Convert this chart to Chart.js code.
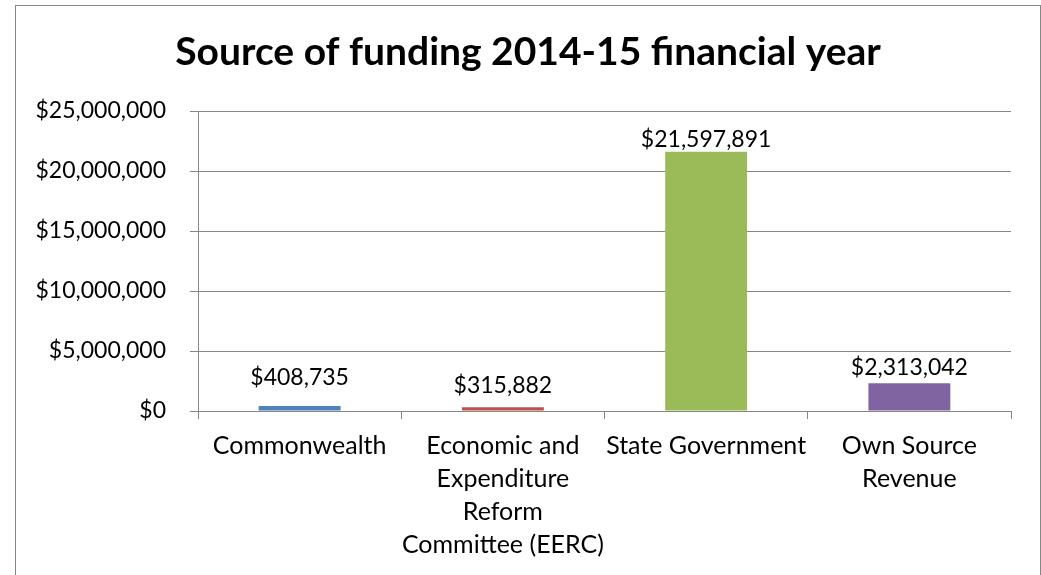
<!DOCTYPE html>
<html>
<head>
<meta charset="utf-8">
<script src="https://cdn.jsdelivr.net/npm/chart.js@4.4.0/dist/chart.umd.min.js"></script>
<style>
html,body{margin:0;padding:0;background:#fff;}
#wrap{width:1041px;height:575px;position:relative;}
</style>
</head>
<body>
<div id="wrap"><canvas id="c" width="1041" height="575"></canvas></div>
<script>
const titleText = "Source of funding 2014-15 financial year";
const categories = [
  ["Commonwealth"],
  ["Economic and", "Expenditure", "Reform", "Committee (EERC)"],
  ["State Government"],
  ["Own Source", "Revenue"]
];
const values = [408735, 315882, 21597891, 2313042];
const barColors = ["#4F81BD", "#C0504D", "#9BBB59", "#8064A2"];
const yTicks = [0, 5000000, 10000000, 15000000, 20000000, 25000000];
const labelGaps = [21, 14, 5, 8];

const FONT = "Lato, 'Open Sans', 'Liberation Sans', sans-serif";
const GRID = "#868686";

function money(v){ return "$" + Math.round(v).toLocaleString("en-US"); }

const frame = {
  id: "frame",
  beforeDraw(chart){
    const ctx = chart.ctx;
    ctx.save();
    ctx.fillStyle = "#fff";
    ctx.fillRect(0,0,chart.width,chart.height);
    ctx.strokeStyle = GRID;
    ctx.lineWidth = 1;
    ctx.strokeRect(15.5, 5.5, 1025, 620);
    ctx.font = "bold 39px " + FONT;
    ctx.fillStyle = "#000";
    ctx.textAlign = "center";
    ctx.textBaseline = "alphabetic";
    ctx.fillText(titleText, 528, 65);
    ctx.restore();
  }
};

const dataLabels = {
  id: "dataLabels",
  afterDatasetsDraw(chart){
    const ctx = chart.ctx;
    const meta = chart.getDatasetMeta(0);
    ctx.save();
    ctx.font = "23px " + FONT;
    ctx.fillStyle = "#000";
    ctx.textAlign = "center";
    ctx.textBaseline = "alphabetic";
    meta.data.forEach((bar, i) => {
      ctx.fillText(money(values[i]), bar.x, bar.y - labelGaps[i]);
    });
    ctx.restore();
  }
};

new Chart(document.getElementById("c"), {
  type: "bar",
  data: {
    labels: categories,
    datasets: [{
      data: values,
      backgroundColor: barColors,
      borderWidth: 0,
      barPercentage: 0.403,
      categoryPercentage: 1
    }]
  },
  options: {
    responsive: false,
    animation: false,
    devicePixelRatio: 1,
    layout: { padding: { top: 111, left: 0, right: 30, bottom: 0 } },
    plugins: {
      legend: { display: false },
      tooltip: { enabled: false },
      title: { display: false }
    },
    scales: {
      x: {
        afterFit(s){ s.height = 164; },
        grid: { drawOnChartArea: false, drawTicks: true, tickLength: 8, color: GRID, offset: true },
        border: { display: true, color: GRID, width: 1 },
        ticks: {
          color: "#000",
          padding: 10,
          maxRotation: 0,
          autoSkip: false,
          font: { family: FONT, size: 25, lineHeight: 1.32 }
        }
      },
      y: {
        min: 0,
        max: 25000000,
        afterFit(s){ s.width = 198; },
        afterBuildTicks(s){ s.ticks = yTicks.map(v => ({ value: v })); },
        grid: { color: GRID, lineWidth: 1, tickLength: 8, drawTicks: true },
        border: { display: true, color: GRID, width: 1 },
        ticks: {
          color: "#000",
          padding: 24,
          font: { family: FONT, size: 23 },
          callback: v => money(v)
        }
      }
    }
  },
  plugins: [frame, dataLabels]
});
</script>
</body>
</html>
